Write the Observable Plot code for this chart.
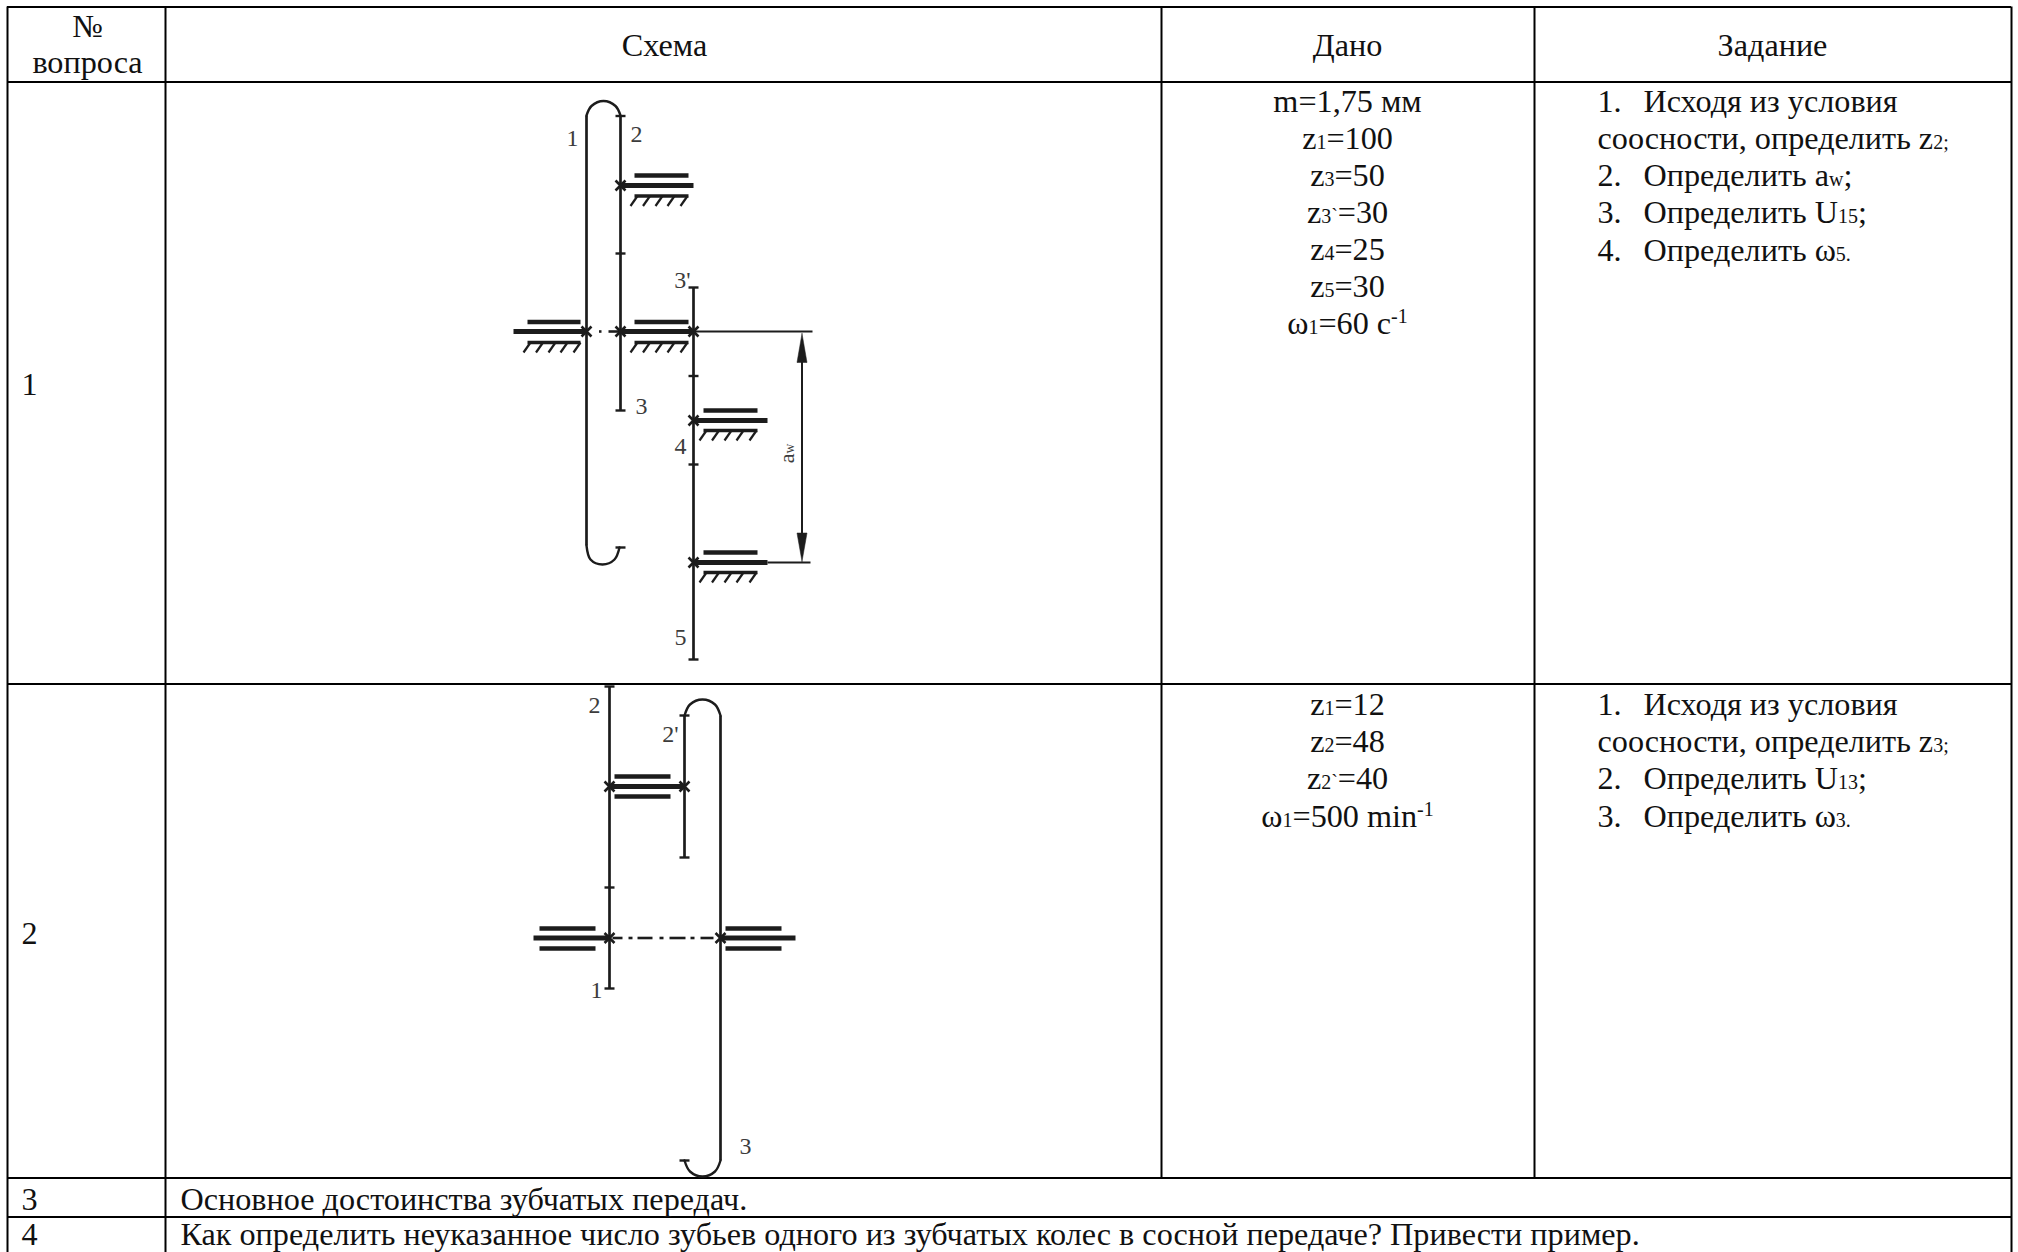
<!DOCTYPE html>
<html><head><meta charset="utf-8">
<style>html,body{margin:0;padding:0;background:#fff}svg{display:block}</style>
<script src="https://cdn.jsdelivr.net/npm/d3@7"></script>
<script src="https://cdn.jsdelivr.net/npm/@observablehq/plot@0.6"></script>
</head><body><div id="chart"></div>
<script>
// Table grid (diagram units = reference pixels)
const gridRows = [6.5, 81.5, 683.5, 1177.5, 1216.5];
const gridCols = [[7, 6.5, 1252], [165, 6.5, 1252], [1161, 6.5, 1177.5], [1534, 6.5, 1177.5], [2011, 6.5, 1252]];

// Table text; {…} = small subscript run, ^{…} = superscript run
const headers = [["№", 87, 36], ["вопроса", 87, 72.5], ["Схема", 664, 55], ["Дано", 1347, 55], ["Задание", 1772, 55]];
const rowNumbers = [["1", 29, 394], ["2", 29, 943], ["3", 29, 1209], ["4", 29, 1244.5]];
const rowTexts = [
  ["Основное достоинства зубчатых передач.", 180, 1209],
  ["Как определить неуказанное число зубьев одного из зубчатых колес в сосной передаче? Привести пример.", 180, 1244.5]
];
const given = [
  ["m=1,75 мм", 111], ["z{1}=100", 148], ["z{3}=50", 185], ["z{3`}=30", 222], ["z{4}=25", 259], ["z{5}=30", 296], ["ω{1}=60 c^{-1}", 333],
  ["z{1}=12", 714], ["z{2}=48", 751], ["z{2`}=40", 788], ["ω{1}=500 min^{-1}", 826]
];
const tasks = [
  ["1.", 1597, 111], ["Исходя из условия", 1643, 111], ["соосности, определить z{2;}", 1597, 148],
  ["2.", 1597, 185], ["Определить a{w};", 1643, 185], ["3.", 1597, 222], ["Определить U{15};", 1643, 222],
  ["4.", 1597, 260], ["Определить ω{5.}", 1643, 260],
  ["1.", 1597, 714], ["Исходя из условия", 1643, 714], ["соосности, определить z{3;}", 1597, 751],
  ["2.", 1597, 788], ["Определить U{13};", 1643, 788], ["3.", 1597, 826], ["Определить ω{3.}", 1643, 826]
];
const schemeLabels = [
  ["1", 572, 145], ["2", 636, 141], ["3'", 682, 287], ["3", 641, 413], ["4", 680, 453], ["5", 680, 644],
  ["2", 594, 712], ["2'", 670, 741], ["1", 596, 997], ["3", 745, 1153]
];
const awLabel = [["a{w}", 786, 453]];

// Gear wheels: [x1, y1, x2, y2]
const wheels = [
  [586, 115, 586, 545], [620, 115, 620, 410], [693, 287, 693, 659],
  [609, 686, 609, 988], [684, 715, 684, 857], [720, 715, 720, 1160]
];
const toothTicks = [
  [620, 115.5], [620, 253], [620, 410], [620, 547], [693, 287], [693, 375.5], [693, 464], [693, 659],
  [609, 686], [609, 887], [609, 988], [684, 715], [684, 857], [684, 1160]
];
const arcs = [
  [[586, 115], [591, 105.5], [603, 100.5], [615, 105.5], [620, 115]],
  [[586, 545], [590, 559], [602, 564], [614, 559], [619, 547]],
  [[684, 715], [689.5, 704], [702, 699], [714.5, 704], [720, 715]],
  [[720, 1160], [714.5, 1171], [702, 1176], [689.5, 1171], [684, 1160]]
];
// Shafts and bearing bars: [x1, y, x2]
const shafts = [
  [620, 185, 693], [513, 331, 586], [620, 331, 693], [693, 420, 767], [693, 562, 767],
  [609, 786, 684], [533, 937.5, 609], [720, 937.5, 795]
];
const upperBars = [
  [634, 175, 688], [527, 321.5, 580], [634, 321.5, 688], [703, 410, 757], [703, 552, 757],
  [614, 776, 670], [539, 928, 595], [725, 928, 781]
];
const lowerBarsPlain = [[614, 796, 670], [539, 948, 595], [725, 948, 781]];
const hatchedBars = [[634, 195.5, 688], [527, 342, 580], [634, 342, 688], [703, 430, 757], [703, 572, 757]];
const hatchOffsets = [-4, 8.5, 21, 33, 46];
const crossings = [
  [586, 331], [620, 331], [693, 331], [620, 185], [693, 420], [693, 562],
  [609, 786], [684, 786], [609, 937.5], [720, 937.5]
];
const centerDashes = [
  [598.5, 331, 601], [608, 331, 620],
  [612, 937.5, 622], [628, 937.5, 632], [637, 937.5, 652], [659, 937.5, 663], [669, 937.5, 685], [690, 937.5, 694], [700, 937.5, 713]
];
// Dimension a_w
const dimLines = [[693, 331, 812], [767, 562, 810]];
const dimShaft = [[801.5, 350, 801.5, 540]];
const dimArrows = [
  [[801.5, 333], [796.5, 362], [806.5, 362], [801.5, 333]],
  [[801.5, 561], [796.5, 532.5], [806.5, 532.5], [801.5, 561]]
];

const INK = "#1c1c1c", LABEL = "#3c3c3c", SERIF = "'Liberation Serif', serif", BODY = 32.2;
const hatches = hatchedBars.flatMap(([x, y]) => hatchOffsets.map(o => [x + o + 7, y, x + o, y + 10]));
const hseg = (data, strokeWidth, stroke = INK) => Plot.link(data, {x1: d => d[0], y1: d => d[1], x2: d => d[2], y2: d => d[1], stroke, strokeWidth});
const seg = (data, strokeWidth, stroke = INK) => Plot.link(data, {x1: d => d[0], y1: d => d[1], x2: d => d[2], y2: d => d[3], stroke, strokeWidth});
const txt = (data, o) => Plot.text(data, {text: d => d[0], x: d => d[1], y: d => d[2], lineAnchor: "bottom", fontFamily: SERIF, fill: "#111", ...o});

const plot = Plot.plot({
  width: 2018, height: 1252, margin: 0,
  x: {domain: [0, 2018], range: [0, 2018], axis: null},
  y: {domain: [0, 1252], range: [0, 1252], axis: null},
  style: {background: "#fff"},
  marks: [
    Plot.ruleY(gridRows, {y: d => d, x1: 7, x2: 2011, stroke: "#000", strokeWidth: 2}),
    Plot.ruleX(gridCols, {x: d => d[0], y1: d => d[1], y2: d => d[2], stroke: "#000", strokeWidth: 2}),
    seg(wheels, 2.7),
    Plot.link(toothTicks, {x1: d => d[0] - 5, x2: d => d[0] + 5, y1: d => d[1], y2: d => d[1], stroke: INK, strokeWidth: 2.4}),
    ...arcs.map(a => Plot.line(a, {x: d => d[0], y: d => d[1], curve: "catmull-rom", stroke: INK, strokeWidth: 2.4})),
    hseg(shafts, 4.8),
    hseg(upperBars, 4.6),
    hseg(lowerBarsPlain, 4.6),
    hseg(hatchedBars, 3.6),
    seg(hatches, 2.2),
    hseg(centerDashes, 2.6),
    hseg(dimLines, 1.8),
    seg(dimShaft, 2),
    ...dimArrows.map(a => Plot.line(a, {x: d => d[0], y: d => d[1], stroke: INK, strokeWidth: 0.5, fill: INK})),
    Plot.dot(crossings, {x: d => d[0], y: d => d[1], symbol: "times", r: 4.6, stroke: INK, strokeWidth: 2.6}),
    txt(headers, {fontSize: BODY}),
    txt(rowNumbers, {fontSize: BODY, textAnchor: "middle"}),
    txt(rowTexts, {fontSize: BODY, textAnchor: "start"}),
    Plot.text(given, {text: d => d[0], x: 1347, y: d => d[1], lineAnchor: "bottom", fontFamily: SERIF, fontSize: BODY, fill: "#111"}),
    txt(tasks, {fontSize: BODY, textAnchor: "start"}),
    txt(schemeLabels, {fontSize: 24, fill: LABEL}),
    Plot.text(awLabel, {text: d => d[0], x: d => d[1], y: d => d[2], rotate: -90, fontFamily: SERIF, fontSize: 22, fill: LABEL})
  ]
});

// Turn the {sub} and ^{sup} runs into real tspans.
plot.querySelectorAll("text").forEach(t => {
  const s = t.textContent;
  if (!s.includes("{")) return;
  t.textContent = "";
  const re = /(\^?)\{([^}]*)\}|[^{^]+/g;
  let m;
  while ((m = re.exec(s))) {
    const span = document.createElementNS("http://www.w3.org/2000/svg", "tspan");
    if (m[2] !== undefined) {
      span.textContent = m[2];
      span.setAttribute("font-size", "0.62em");
      if (m[1]) span.setAttribute("dy", "-0.55em");
    } else span.textContent = m[0];
    t.appendChild(span);
  }
});
document.getElementById("chart").appendChild(plot);
</script></body></html>
